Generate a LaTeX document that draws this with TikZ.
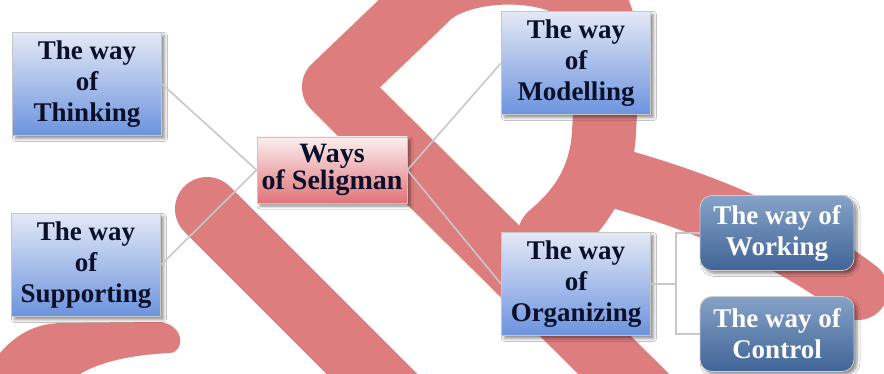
\documentclass[tikz,border=0pt]{standalone}
\usepackage{fontspec}
\setmainfont{Liberation Serif}
\usetikzlibrary{shadows.blur}
\definecolor{wm}{RGB}{221,125,125}
\definecolor{bluetop}{RGB}{228,233,246}
\definecolor{bluebot}{RGB}{108,147,222}
\definecolor{pinktop}{RGB}{251,239,239}
\definecolor{pinkbot}{RGB}{224,115,122}
\definecolor{dtop}{RGB}{134,162,200}
\definecolor{dbot}{RGB}{63,100,150}
\definecolor{txt}{RGB}{10,15,42}
\definecolor{conn}{RGB}{200,200,200}
\begin{document}
\begin{tikzpicture}[x=1pt,y=-1pt,
  wmline/.style={draw=wm, line cap=round, line join=round},
  shade/.style={blur shadow={shadow xshift=3pt, shadow yshift=-3pt, shadow blur radius=3pt, shadow opacity=45}},
  bluebox/.style={shade, rectangle, draw=gray!45, line width=0.8pt, top color=bluetop, bottom color=bluebot,
    text=txt, font=\fontsize{27}{31}\selectfont\bfseries, align=center,
    minimum width=149pt, minimum height=103pt, inner sep=0pt},
  centerbox/.style={shade, rectangle, draw=gray!45, line width=0.8pt, top color=pinktop, bottom color=pinkbot,
    text=txt, font=\fontsize{28}{27}\selectfont\bfseries, align=center,
    minimum width=150pt, minimum height=66pt, inner sep=0pt},
  darkbox/.style={shade, rectangle, rounded corners=12pt, draw=gray!40, line width=0.8pt, top color=dtop, bottom color=dbot,
    text=white, font=\fontsize{27}{31}\selectfont\bfseries, align=center,
    minimum width=154pt, minimum height=75pt, inner sep=0pt},
  link/.style={draw=conn, line width=1.6pt}
]
\useasboundingbox (0,0) rectangle (884,374);
\fill[white] (0,0) rectangle (884,374);
% watermark
\begin{scope}
\clip (0,0) rectangle (884,374);
\draw[wmline, line width=64pt] (207,209) -- (430,432);
\draw[wmline, line width=64pt] (655,405) -- (334,87) -- (425,0)
  .. controls (460,-40) and (592,-40) .. (603,25)
  .. controls (610,55) and (606,90) .. (604,133)
  .. controls (601,180) and (580,210) .. (550,235);
\draw[wmline, line width=60pt] (605,175) .. controls (680,195) and (780,230) .. (858,290);
\fill[wm] (0,353) .. controls (20,330) and (40,324) .. (60,323) -- (160,322)
  .. controls (185,325) and (185,352) .. (170,353)
  .. controls (130,355) and (100,362) .. (80,374) -- (0,374) -- cycle;
\end{scope}
% nodes
\node[bluebox] (think) at (87,84) {The way\\of\\Thinking};
\node[bluebox] (supp) at (86,265) {The way\\of\\Supporting};
\node[bluebox] (model) at (576,63) {The way\\of\\Modelling};
\node[bluebox] (org) at (576,284) {The way\\of\\Organizing};
\node[centerbox] (ways) at (332,170) {Ways\\of Seligman};
\node[darkbox] (work) at (777,233) {The way of\\Working};
\node[darkbox] (ctrl) at (777,334) {The way of\\Control};
% connectors
\draw[link] (think.east) -- (ways.west);
\draw[link] (supp.east) -- (ways.west);
\draw[link] (ways.east) -- (model.west);
\draw[link] (ways.east) -- (org.west);
\draw[link] (org.east) -- ++(25,0) |- (work.west);
\draw[link] (org.east) -- ++(25,0) |- (ctrl.west);
\end{tikzpicture}
\end{document}
